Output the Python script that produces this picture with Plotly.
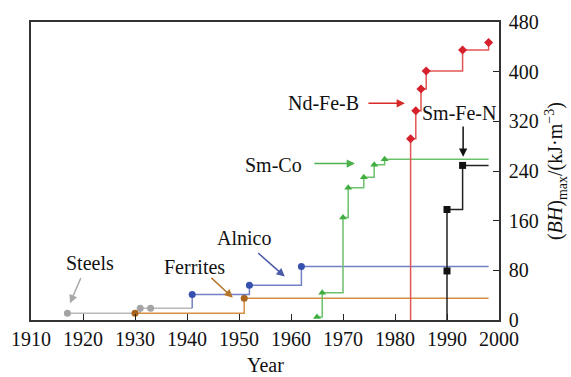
import plotly.graph_objects as go

# Maximum energy product (BH)max of permanent magnet families, kJ/m^3
steels_year = [1917, 1931, 1933]
steels_bh = [11, 19, 19]

ferrites_year = [1930, 1951]
ferrites_bh = [11, 35]

alnico_year = [1941, 1952, 1962]
alnico_bh = [41, 56, 86]

smco_year = [1965, 1966, 1970, 1971, 1974, 1976, 1978]
smco_bh = [5, 44, 165, 213, 230, 250, 259]

ndfeb_year = [1983, 1984, 1985, 1986, 1993, 1998]
ndfeb_bh = [292, 337, 372, 401, 435, 447]

smfen_year = [1990, 1990, 1993]
smfen_bh = [79, 178, 249]

x_ticks = [1910, 1920, 1930, 1940, 1950, 1960, 1970, 1980, 1990, 2000]
y_ticks = [0, 80, 160, 240, 320, 400, 480]

END_YEAR = 1998
FONT = '"Liberation Serif", serif'

fig = go.Figure()


def add_series(name, years, vals, line_color, marker_color, symbol,
               base=None, end=None):
    lx, ly = list(years), list(vals)
    if base is not None:
        lx = [years[0]] + lx
        ly = [base] + ly
    if end is not None:
        lx = lx + [end]
        ly = ly + [vals[-1]]
    fig.add_trace(go.Scatter(x=lx, y=ly, mode="lines", line_shape="hv",
                             line=dict(color=line_color, width=1.5),
                             name=name, showlegend=False, hoverinfo="skip"))
    fig.add_trace(go.Scatter(x=years, y=vals, mode="markers",
                             marker=dict(color=marker_color, symbol=symbol, size=7),
                             name=name, showlegend=False))


add_series("Steels", steels_year, steels_bh, "#b8b8b8", "#a4a4a4", "circle",
           end=alnico_year[0])
add_series("Ferrites", ferrites_year, ferrites_bh, "#d58f45", "#a8631c", "circle",
           end=END_YEAR)
add_series("Alnico", alnico_year, alnico_bh, "#7480c4", "#3650b0", "circle",
           base=steels_bh[-1], end=END_YEAR)
add_series("Sm-Co", smco_year, smco_bh, "#6cc06c", "#3fae3f", "triangle-up",
           end=END_YEAR)
add_series("Nd-Fe-B", ndfeb_year, ndfeb_bh, "#e35555", "#d6202c", "diamond",
           base=0)
add_series("Sm-Fe-N", smfen_year, smfen_bh, "#222222", "#111111", "square",
           base=0, end=END_YEAR)

# Labels with arrows pointing at each family
labels = [
    ("Steels", 1921.3, 92, 1919.7, 70, 1917.5, 27, "#a8a8a8"),
    ("Ferrites", 1941.5, 86, 1944.4, 70, 1948.8, 36, "#b5762a"),
    ("Alnico", 1950.9, 132, 1953.4, 110, 1958.8, 70, "#4a5aa8"),
    ("Sm-Co", 1956.7, 250, 1964.2, 252, 1972.3, 252, "#4cb04c"),
    ("Nd-Fe-B", 1966.2, 349, 1974.6, 349, 1981.9, 349, "#d92a2a"),
    ("Sm-Fe-N", 1992.3, 333, 1993.1, 314, 1993.1, 263, "#111111"),
]
for text, tx, ty, ax0, ay0, hx, hy, col in labels:
    fig.add_annotation(x=tx, y=ty, xref="x", yref="y", text=text,
                       showarrow=False, font=dict(family=FONT, size=20, color="#111"))
    fig.add_annotation(x=hx, y=hy, ax=ax0, ay=ay0, xref="x", yref="y",
                       axref="x", ayref="y", text="", showarrow=True,
                       arrowhead=2, arrowsize=1.1, arrowwidth=1.5, arrowcolor=col)

# Axis titles
fig.add_annotation(x=0.5, y=-0.151, xref="paper", yref="paper", text="Year",
                   xanchor="center", yanchor="middle", borderpad=0,
                   showarrow=False, font=dict(family=FONT, size=20, color="#111"))
fig.add_annotation(x=1.122, y=0.50, xref="paper", yref="paper", textangle=-90,
                   xanchor="center", yanchor="middle",
                   text="(<i>BH</i>)<sub>max</sub>/(kJ·m<sup>−3</sup>)",
                   showarrow=False, font=dict(family=FONT, size=20, color="#111"))

fig.update_layout(
    width=571, height=377,
    margin=dict(l=31, r=72, t=22, b=57),
    plot_bgcolor="white", paper_bgcolor="white",
    font=dict(family=FONT, size=20, color="#111"),
)
fig.update_xaxes(
    range=[1910, 2000], tickvals=x_ticks, ticks="inside", ticklen=6,
    tickcolor="#222", showline=True, linecolor="#333", linewidth=1.5,
    mirror=True, showgrid=False, zeroline=False, automargin=False,
    tickfont=dict(family=FONT, size=20),
)
fig.update_yaxes(
    range=[0, 480], tickvals=y_ticks, side="right", ticks="inside", ticklen=6,
    tickcolor="#222", showline=True, linecolor="#333", linewidth=1.5,
    mirror=True, showgrid=False, zeroline=False, ticklabelstandoff=4,
    automargin=False,
    tickfont=dict(family=FONT, size=20),
)

fig.write_html("out.html")
